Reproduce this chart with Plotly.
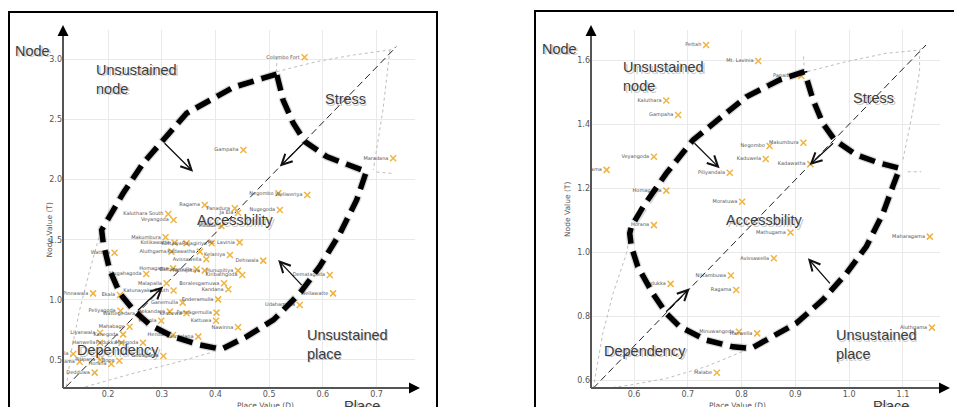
import plotly.graph_objects as go

# ---------------- DATA ----------------
# Left panel: place value (D) vs node value (T)
left_names = ["Colombo Fort", "Gampaha", "Maradana", "Negombo", "Weliweriya", "Ragama", "Panadura",
              "Ja Ela", "Nugegoda", "Kaluthara South", "Veyangoda", "Malabe", "Makumbura",
              "Kotikawatta", "Kottawa", "Rajagiriya", "Mt. Lavinia", "Aluthgama", "Wattala",
              "Kadawatha", "Kelaniya", "Dehiwala", "Avissawella", "Mugahagoda", "Homagama",
              "Battaramulla", "Pannipitiya", "Hunupitiya", "Kiribathgoda", "Malapalla",
              "Boralesgamuwa", "Kandana", "Katunayake South", "Pinnawala", "Ekala", "Enderamulla",
              "Ganemulla", "Udahamulla", "Wellawatte", "Dematagoda", "Peliyagoda", "Wattegedara",
              "Hokandara", "Kesbewa", "Pannagemulla", "Kattuwa", "Nawinna", "Mabola", "Hendala",
              "Ratmalana", "Mahabage", "Liyanwala", "Kanegoda", "Hanwella", "Padukka", "Meegoda",
              "Godagama", "Ugalla", "Kosgama", "Pitipana", "Horana", "Bope", "Dedduwa"]
left_x = [0.566, 0.452, 0.731, 0.517, 0.571, 0.380, 0.436,
          0.442, 0.520, 0.312, 0.322, 0.411, 0.307,
          0.324, 0.346, 0.393, 0.445, 0.318, 0.212,
          0.371, 0.427, 0.489, 0.383, 0.271, 0.321,
          0.365, 0.380, 0.442, 0.450, 0.309,
          0.416, 0.424, 0.322, 0.172, 0.222, 0.405,
          0.339, 0.557, 0.619, 0.613, 0.223, 0.259,
          0.315, 0.346, 0.402, 0.401, 0.442, 0.299, 0.321,
          0.368, 0.240, 0.185, 0.228, 0.185, 0.225, 0.265,
          0.303, 0.135, 0.147, 0.185, 0.206, 0.221, 0.175]
left_y = [3.017, 2.246, 2.177, 1.886, 1.872, 1.789, 1.761,
          1.725, 1.747, 1.714, 1.664, 1.614, 1.520,
          1.476, 1.470, 1.470, 1.478, 1.401, 1.392,
          1.401, 1.373, 1.326, 1.337, 1.215, 1.262,
          1.254, 1.243, 1.243, 1.207, 1.138,
          1.138, 1.088, 1.077, 1.054, 1.040, 1.004,
          0.977, 0.957, 1.054, 1.207, 0.910, 0.882,
          0.902, 0.888, 0.894, 0.827, 0.772, 0.827, 0.708,
          0.694, 0.777, 0.727, 0.713, 0.644, 0.644, 0.644,
          0.533, 0.550, 0.486, 0.500, 0.467, 0.494, 0.395]

# Right panel
right_names = ["Pettah", "Mt. Lavinia", "Panadura", "Kaluthara", "Gampaha", "Negombo", "Makumbura",
               "Kaduwela", "Kadawatha", "Veyangoda", "Mirigama", "Piliyandala", "Homagama",
               "Moratuwa", "Horana", "Mathugama", "Maharagama", "Avissawella", "Nittambuwa",
               "Padukka", "Ragama", "Minuwangoda", "Hanwella", "Aluthgama", "Malabe"]
right_x = [0.734, 0.831, 0.911, 0.660, 0.682, 0.852, 0.915,
           0.845, 0.928, 0.637, 0.549, 0.778, 0.660,
           0.801, 0.637, 0.891, 1.150, 0.860, 0.780,
           0.668, 0.790, 0.795, 0.829, 1.154, 0.754]
right_y = [1.649, 1.599, 1.552, 1.475, 1.430, 1.333, 1.343,
           1.292, 1.276, 1.299, 1.258, 1.249, 1.193,
           1.158, 1.085, 1.062, 1.049, 0.981, 0.927,
           0.901, 0.882, 0.751, 0.746, 0.764, 0.623]

# Zone boundary (thick dashed) - left panel
left_zone_x = [0.514, 0.433, 0.346, 0.303, 0.265, 0.228, 0.197, 0.188, 0.191, 0.203, 0.222,
               0.247, 0.278, 0.321, 0.371, 0.411, 0.458, 0.508, 0.557, 0.594, 0.632, 0.663,
               0.681, 0.650, 0.607, 0.567, 0.545, 0.526, 0.514]
left_zone_y = [2.878, 2.767, 2.551, 2.329, 2.135, 1.886, 1.650, 1.581, 1.470, 1.248, 1.054,
               0.916, 0.791, 0.694, 0.625, 0.589, 0.694, 0.833, 1.054, 1.276, 1.553, 1.830,
               2.066, 2.121, 2.191, 2.315, 2.468, 2.662, 2.878]
# Zone boundary - right panel
right_zone_x = [0.917, 0.871, 0.809, 0.747, 0.710, 0.660, 0.617, 0.595, 0.592, 0.595, 0.607,
                0.635, 0.660, 0.685, 0.734, 0.784, 0.818, 0.852, 0.902, 0.951, 0.995, 1.032,
                1.063, 1.081, 1.094, 1.057, 1.013, 0.973, 0.951, 0.933, 0.923, 0.917]
right_zone_y = [1.566, 1.540, 1.487, 1.404, 1.352, 1.247, 1.143, 1.080, 1.059, 1.018, 0.955,
                0.871, 0.809, 0.767, 0.725, 0.704, 0.699, 0.731, 0.778, 0.851, 0.934, 1.018,
                1.122, 1.205, 1.263, 1.279, 1.305, 1.352, 1.404, 1.477, 1.529, 1.566]

# Diagonals
left_diag_x, left_diag_y = [0.122, 0.737], [0.278, 3.105]
right_diag_x, right_diag_y = [0.524, 1.143], [0.574, 1.649]

# Faint leaf outlines (segments)
left_leaf = [
    ([0.122, 0.132, 0.147, 0.166, 0.185], [0.278, 0.583, 0.916, 1.248, 1.553]),
    ([0.514, 0.588, 0.657, 0.725, 0.737], [2.897, 2.981, 3.036, 3.078, 3.105]),
    ([0.725, 0.712, 0.694], [3.078, 2.579, 2.080]),
    ([0.700, 0.728], [2.063, 2.052]),
    ([0.147, 0.247, 0.321, 0.396], [0.264, 0.389, 0.472, 0.567]),
    ([0.5143, 0.5137], [3.019, 2.886]),
]
right_leaf = [
    ([0.524, 0.542, 0.561, 0.586, 0.592], [0.574, 0.746, 0.871, 0.997, 1.049]),
    ([0.923, 0.995, 1.069, 1.131, 1.143], [1.566, 1.597, 1.623, 1.633, 1.649]),
    ([1.131, 1.131, 1.119, 1.100], [1.633, 1.566, 1.446, 1.289]),
    ([1.109, 1.134], [1.252, 1.252]),
    ([0.527, 0.592, 0.660, 0.734, 0.809], [0.569, 0.584, 0.605, 0.642, 0.694]),
    ([0.915, 0.917], [1.613, 1.571]),
]

# Direction arrows (start -> end)
left_arrows = [((0.3025, 2.315), (0.3584, 2.066)), ((0.5665, 2.315), (0.5199, 2.108)),
               ((0.2528, 0.902), (0.3025, 1.110)), ((0.5634, 1.110), (0.5168, 1.331))]
right_arrows = [((0.7097, 1.346), (0.7592, 1.263)), ((0.9730, 1.346), (0.9265, 1.273)),
                ((0.6570, 0.809), (0.7035, 0.887)), ((0.9668, 0.898), (0.9234, 0.981))]

left_xticks = [0.2, 0.3, 0.4, 0.5, 0.6, 0.7]
left_yticks = [0.5, 1.0, 1.5, 2.0, 2.5, 3.0]
right_xticks = [0.6, 0.7, 0.8, 0.9, 1.0, 1.1]
right_yticks = [0.6, 0.8, 1.0, 1.2, 1.4, 1.6]

# Zone labels: (text, x, y, xanchor, yanchor)
left_labels = [("Unsustained<br>node", 0.174, 2.995, "left", "top"),
               ("Stress", 0.642, 2.667, "center", "middle"),
               ("Accessbility", 0.437, 1.664, "center", "middle"),
               ("Dependency", 0.219, 0.583, "center", "middle"),
               ("Unsustained<br>place", 0.5665, 0.791, "left", "top")]
right_labels = [("Unsustained<br>node", 0.5765, 1.610, "left", "top"),
                ("Stress", 1.046, 1.482, "center", "middle"),
                ("Accessbility", 0.842, 1.101, "center", "middle"),
                ("Dependency", 0.621, 0.692, "center", "middle"),
                ("Unsustained<br>place", 0.9717, 0.772, "left", "top")]

W, H = 954, 407
def px(x): return x / W
def py(y): return 1 - y / H

fig = go.Figure()

def add_panel(xa, ya, names, xs, ys, zx, zy, dx, dy, leaf):
    for sx, sy in leaf:
        fig.add_trace(go.Scatter(x=sx, y=sy, mode="lines", xaxis=xa, yaxis=ya, hoverinfo="skip",
                                 line=dict(color="#bdbdbd", width=1, dash="3px,3px")))
    fig.add_trace(go.Scatter(x=dx, y=dy, mode="lines", xaxis=xa, yaxis=ya, hoverinfo="skip",
                             line=dict(color="#222", width=1, dash="7px,4px")))
    fig.add_trace(go.Scatter(x=xs, y=ys, mode="markers+text", xaxis=xa, yaxis=ya, text=names,
                             textposition="middle left",
                             textfont=dict(size=5, color="#555", family="DejaVu Sans"),
                             marker=dict(symbol="x-thin", size=6,
                                         line=dict(width=1.5, color="#f0b440"))))
    # soft shadow of the zone line
    fig.add_trace(go.Scatter(x=zx, y=zy, mode="lines", xaxis=xa, yaxis=ya, hoverinfo="skip",
                             line=dict(color="rgba(0,0,0,0.15)", width=8, dash="17px,7px")))
    fig.add_trace(go.Scatter(x=zx, y=zy, mode="lines", xaxis=xa, yaxis=ya, hoverinfo="skip",
                             line=dict(color="#000", width=5.5, dash="16px,8px")))

add_panel("x", "y", left_names, left_x, left_y, left_zone_x, left_zone_y,
          left_diag_x, left_diag_y, left_leaf)
add_panel("x2", "y2", right_names, right_x, right_y, right_zone_x, right_zone_y,
          right_diag_x, right_diag_y, right_leaf)

annotations = []
for arrows, xr, yr in [(left_arrows, "x", "y"), (right_arrows, "x2", "y2")]:
    for (sx, sy), (ex, ey) in arrows:
        annotations.append(dict(x=ex, y=ey, ax=sx, ay=sy, xref=xr, yref=yr, axref=xr, ayref=yr,
                                text="", showarrow=True, arrowhead=5, arrowsize=1.6,
                                arrowwidth=1.3, arrowcolor="#111"))

big_font = dict(family="Liberation Sans, Arial", size=14.5, color="#3c3c3c")
for labels, xr, yr in [(left_labels, "x", "y"), (right_labels, "x2", "y2")]:
    for t, x, y, xa, yan in labels:
        annotations.append(dict(x=x, y=y, xref=xr, yref=yr, text=t, showarrow=False,
                                xanchor=xa, yanchor=yan, align="left",
                                font=dict(big_font, color="rgba(0,0,0,0.22)"), xshift=1.5, yshift=-1.5))
        annotations.append(dict(x=x, y=y, xref=xr, yref=yr, text=t, showarrow=False,
                                xanchor=xa, yanchor=yan, align="left", font=big_font))

# Paper-positioned texts: Node / Place / axis titles
for t, x, y, xa, yan in [("Node", 13, 51, "left", "middle"), ("Node", 540, 49, "left", "middle"),
                         ("Place", 362, 396, "center", "top"), ("Place", 891, 396, "center", "top")]:
    annotations.append(dict(x=px(x), y=py(y), xref="paper", yref="paper", text=t, showarrow=False,
                            xanchor=xa, yanchor=yan, font=dict(big_font, color="rgba(0,0,0,0.22)"),
                            xshift=1.5, yshift=-1.5))
    annotations.append(dict(x=px(x), y=py(y), xref="paper", yref="paper", text=t, showarrow=False,
                            xanchor=xa, yanchor=yan, font=big_font))
small_font = dict(family="DejaVu Sans", size=7.5, color="#555")
for x in (42, 567):
    annotations.append(dict(x=px(x), y=py(230 if x == 42 else 210), xref="paper", yref="paper",
                            text="Node Value (T)", textangle=-90, showarrow=False, font=small_font))
for x in (235, 768):
    annotations.append(dict(x=px(x), y=py(399), xref="paper", yref="paper", text="Place Value (D)",
                            showarrow=False, yanchor="top", font=small_font))

# Axis arrows
shapes = []
for ax_x, x_end in [(63, 420), (591, 950)]:
    shapes.append(dict(type="line", xref="paper", yref="paper", x0=px(ax_x), x1=px(ax_x),
                       y0=py(388), y1=py(30), line=dict(color="#555", width=2)))
    shapes.append(dict(type="line", xref="paper", yref="paper", x0=px(ax_x), x1=px(x_end - 6),
                       y0=py(388), y1=py(388), line=dict(color="#555", width=2)))
    annotations.append(dict(x=px(ax_x), y=py(25), xref="paper", yref="paper", ax=0, ay=8,
                            text="", showarrow=True, arrowhead=2, arrowsize=1.1, arrowwidth=2,
                            arrowcolor="#000"))
    annotations.append(dict(x=px(x_end), y=py(388), xref="paper", yref="paper", ax=-8, ay=0,
                            text="", showarrow=True, arrowhead=2, arrowsize=1.1, arrowwidth=2,
                            arrowcolor="#000"))
# Panel borders
shapes.append(dict(type="rect", xref="paper", yref="paper", x0=px(9), x1=px(437), y0=-0.05, y1=py(12),
                   line=dict(color="#000", width=2)))
shapes.append(dict(type="rect", xref="paper", yref="paper", x0=px(535), x1=1.05, y0=-0.05, y1=py(11),
                   line=dict(color="#000", width=2)))

tick_font = dict(family="DejaVu Sans", size=8, color="#555")
common = dict(showgrid=True, gridcolor="#e9e9e9", gridwidth=1, zeroline=False, showline=False,
              ticks="", tickfont=tick_font, tickformat=".1f", fixedrange=True)

fig.update_layout(
    width=W, height=H, margin=dict(l=0, r=0, t=0, b=0),
    paper_bgcolor="white", plot_bgcolor="white", showlegend=False,
    xaxis=dict(common, domain=[px(63), px(415)], range=[0.116, 0.7717], tickvals=left_xticks, anchor="y"),
    yaxis=dict(common, domain=[py(388), py(30)], range=[0.267, 3.244], tickvals=left_yticks, anchor="x"),
    xaxis2=dict(common, domain=[px(591), px(940)], range=[0.52, 1.169], tickvals=right_xticks, anchor="y2"),
    yaxis2=dict(common, domain=[py(388), py(30)], range=[0.575, 1.696], tickvals=right_yticks, anchor="x2"),
    annotations=annotations, shapes=shapes,
)

fig.write_html("out.html")
